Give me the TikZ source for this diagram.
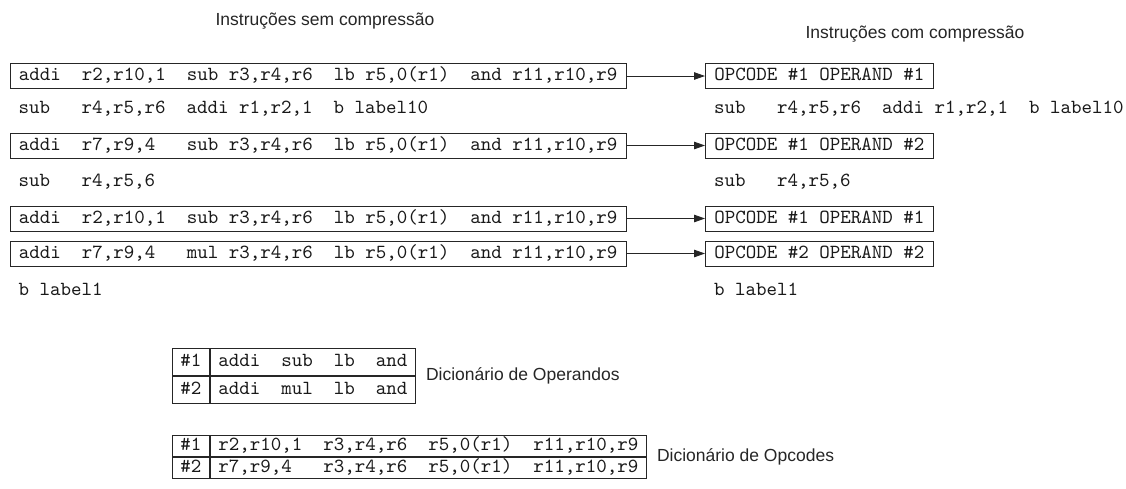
\documentclass[tikz,border=0pt]{standalone}
\usepackage{fontspec}
\setmainfont{Liberation Sans}
\newfontfamily\asmfont{lmmono10-regular}[Extension=.otf]
\usetikzlibrary{arrows.meta}

\begin{document}
\begin{tikzpicture}[x=1pt,y=-1pt,
  asm/.style={font=\fontsize{20}{24}\asmfont, text=black!90,
    inner xsep=9pt, inner ysep=0pt, text height=12.5pt, text depth=3.5pt,
    anchor=west},
  instbox/.style={asm, draw=black!85, line width=0.9pt, minimum height=25pt},
  cell/.style={asm, draw=black!85, line width=0.9pt, inner xsep=8pt,
    anchor=north west},
  keycell/.style={cell, minimum width=35pt},
  titletext/.style={font=\fontsize{17.5}{20}\selectfont, text=black!85, inner sep=0pt},
  dicttext/.style={titletext, anchor=west},
  link/.style={line width=0.9pt, draw=black!85, -{Triangle[length=11pt,width=7.5pt]}},
  divider/.style={line width=1.8pt, draw=black!85}
]
\fill[white] (0,0) rectangle (1126,488);
\useasboundingbox (0,0) rectangle (1126,488);

% column headings
\node[titletext] (t1) at (325,21) {Instruções sem compressão};
\node[titletext] (t2) at (915,34) {Instruções com compressão};

% uncompressed program (left)
\node[instbox] (i1) at (9.5,76) {addi~~r2,r10,1~~sub~r3,r4,r6~~lb~r5,0(r1)~~and~r11,r10,r9};
\node[asm] (s1) at (9.5,109) {sub~~~r4,r5,r6~~addi~r1,r2,1~~b~label10};
\node[instbox] (i2) at (9.5,145.5) {addi~~r7,r9,4~~~sub~r3,r4,r6~~lb~r5,0(r1)~~and~r11,r10,r9};
\node[asm] (s2) at (9.5,182) {sub~~~r4,r5,6};
\node[instbox] (i3) at (9.5,218.5) {addi~~r2,r10,1~~sub~r3,r4,r6~~lb~r5,0(r1)~~and~r11,r10,r9};
\node[instbox] (i4) at (9.5,253.5) {addi~~r7,r9,4~~~mul~r3,r4,r6~~lb~r5,0(r1)~~and~r11,r10,r9};
\node[asm] (s3) at (9.5,291) {b~label1};

% compressed program (right)
\node[instbox] (c1) at (705,76) {OPCODE~\#1~OPERAND~\#1};
\node[asm] (r1) at (705,109) {sub~~~r4,r5,r6~~addi~r1,r2,1~~b~label10};
\node[instbox] (c2) at (705,145.5) {OPCODE~\#1~OPERAND~\#2};
\node[asm] (r2) at (705,182) {sub~~~r4,r5,6};
\node[instbox] (c3) at (705,218.5) {OPCODE~\#1~OPERAND~\#1};
\node[instbox] (c4) at (705,253.5) {OPCODE~\#2~OPERAND~\#2};
\node[asm] (r3) at (705,291) {b~label1};

\draw[link] (i1) -- (c1);
\draw[link] (i2) -- (c2);
\draw[link] (i3) -- (c3);
\draw[link] (i4) -- (c4);

% operand dictionary
\begin{scope}[every node/.append style={minimum height=27pt}]
\node[keycell] (k11) at (172,348) {\#1};
\node[cell] (d11) at (k11.north east) {addi~~sub~~lb~~and};
\node[keycell] (k12) at (k11.south west) {\#2};
\node[cell] (d12) at (k12.north east) {addi~~mul~~lb~~and};
\end{scope}
\draw[divider] (k11.north east) -- (k12.south east);
\node[dicttext] (n1) at ([xshift=10pt]d11.south east) {Dicionário de Operandos};

% opcode dictionary
\begin{scope}[every node/.append style={minimum height=21pt}]
\node[keycell] (k21) at (172,435) {\#1};
\node[cell] (d21) at (k21.north east) {r2,r10,1~~r3,r4,r6~~r5,0(r1)~~r11,r10,r9};
\node[keycell] (k22) at (k21.south west) {\#2};
\node[cell] (d22) at (k22.north east) {r7,r9,4~~~r3,r4,r6~~r5,0(r1)~~r11,r10,r9};
\end{scope}
\draw[divider] (k21.north east) -- (k22.south east);
\node[dicttext] (n2) at ([xshift=10pt]d21.south east) {Dicionário de Opcodes};
\end{tikzpicture}
\end{document}
